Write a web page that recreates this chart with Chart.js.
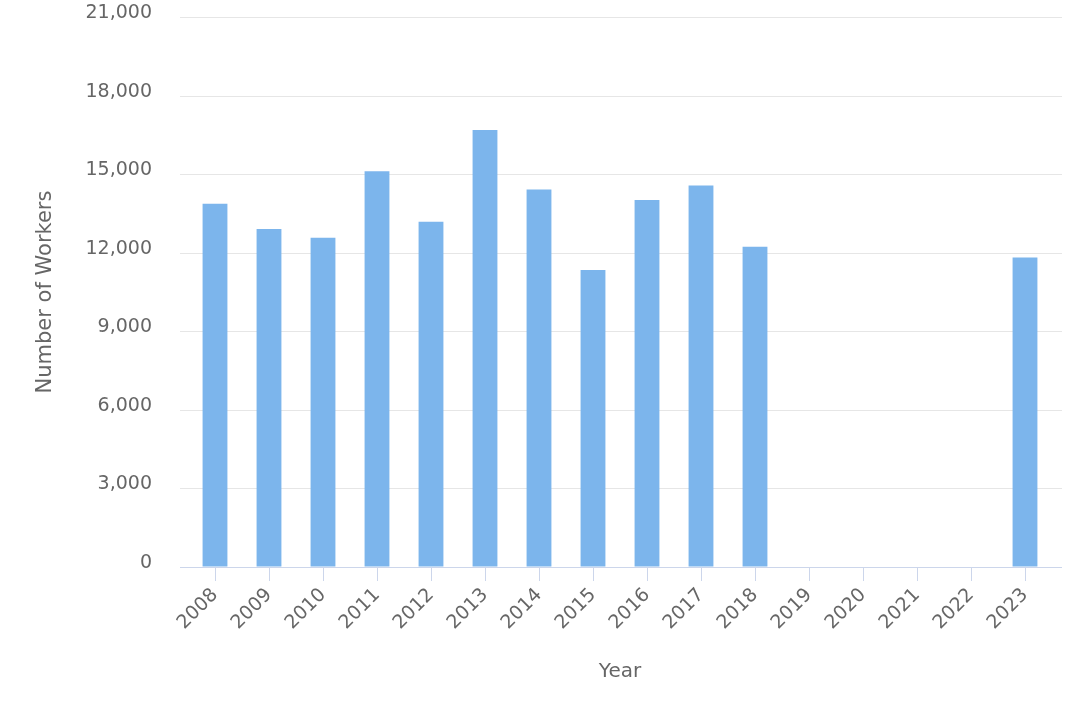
<!DOCTYPE html>
<html>
<head>
<meta charset="utf-8">
<script src="https://cdn.jsdelivr.net/npm/chart.js@4"></script>
<style>
  body { margin: 0; background: #fff; }
  #wrap { width: 1080px; height: 720px; position: relative; }
</style>
</head>
<body>
<div id="wrap"><canvas id="graph"></canvas></div>
<script>
// data
const years = ['2008','2009','2010','2011','2012','2013','2014','2015','2016','2017','2018','2019','2020','2021','2022','2023'];
const workers = [13870, 12910, 12570, 15110, 13180, 16690, 14410, 11340, 14010, 14570, 12230, null, null, null, null, 11820];
const yMax = 21000;
const yStep = 3000;

const textColor = '#666666';
const font = 'DejaVu Sans';

// y grid + baseline drawn a little wider than the category area (like the original)
const gridLines = {
  id: 'gridLines',
  beforeDatasetsDraw(chart){
    const ctx = chart.ctx;
    const area = chart.chartArea;
    const y = chart.scales.y;
    ctx.save();
    ctx.lineWidth = 1;
    y.ticks.forEach(function(t){
      const py = Math.round(y.getPixelForValue(t.value)) + 0.5;
      ctx.strokeStyle = t.value === 0 ? '#ccd6eb' : '#e6e6e6';
      ctx.beginPath();
      ctx.moveTo(area.left - 8, py);
      ctx.lineTo(area.right + 10, py);
      ctx.stroke();
    });
    ctx.restore();
  }
};

const data = {
  labels: years,
  datasets: [{
    data: workers,
    backgroundColor: '#7cb5ec',
    borderWidth: 0,
    categoryPercentage: 1,
    barPercentage: 0.46
  }]
};

const bar = {
  type: 'bar',
  data: data,
  options: {
    responsive: true,
    maintainAspectRatio: false,
    animation: false,
    layout: { padding: { top: 17, right: 28, left: 0, bottom: 0 } },
    plugins: {
      legend: { display: false },
      tooltip: { enabled: false }
    },
    scales: {
      x: {
        afterFit: function(scale){ scale.height = 153; },
        grid: {
          display: true,
          drawOnChartArea: false,
          drawTicks: true,
          tickLength: 14,
          offset: false,
          color: '#ccd6eb'
        },
        border: { display: false },
        ticks: {
          color: textColor,
          font: { family: font, size: 19 },
          minRotation: 45,
          maxRotation: 45,
          autoSkip: false,
          padding: 3
        },
        title: {
          display: true,
          text: 'Year',
          color: textColor,
          font: { family: font, size: 20 },
          padding: { top: 0, bottom: 36 }
        }
      },
      y: {
        min: 0,
        max: yMax,
        afterFit: function(scale){ scale.width = 188; },
        // invisible tick marks only, to push the labels left
        grid: {
          display: true,
          drawOnChartArea: false,
          drawTicks: true,
          tickLength: 33,
          tickColor: 'rgba(0,0,0,0)'
        },
        border: { display: false },
        ticks: {
          stepSize: yStep,
          color: textColor,
          font: { family: font, size: 19 },
          padding: 3,
          labelOffset: -4
        },
        title: {
          display: true,
          text: 'Number of Workers',
          color: textColor,
          font: { family: font, size: 21 },
          padding: { top: 33, bottom: 0 }
        }
      }
    }
  },
  plugins: [gridLines]
};

const ctx = document.getElementById('graph');
const chart = new Chart(ctx, bar);
</script>
</body>
</html>
